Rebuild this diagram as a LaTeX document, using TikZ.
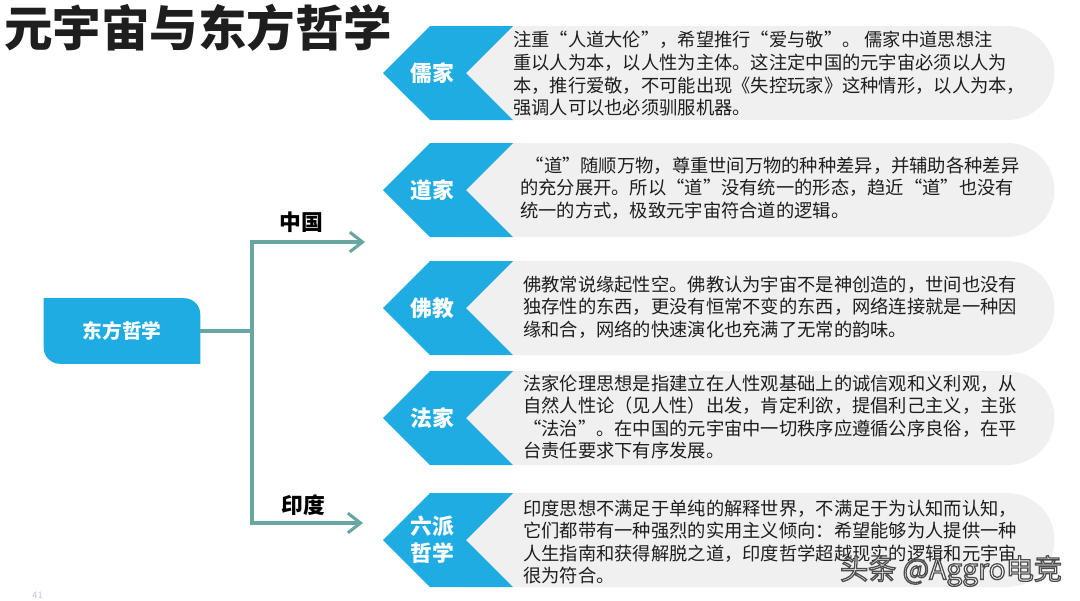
\documentclass[tikz,border=0pt]{standalone}
\usepackage{fontspec}
\usepackage{tikz}
\usetikzlibrary{shapes.symbols, shapes.misc, arrows.meta, positioning, backgrounds}
\newfontfamily\cjk{Noto Sans CJK SC}
\definecolor{chevblue}{RGB}{31,172,227}
\definecolor{boxgray}{RGB}{240,240,240}
\definecolor{linkteal}{RGB}{104,167,161}
\definecolor{inkblack}{RGB}{30,30,30}
\newcommand{\outlined}[1]{\special{pdf:literal direct 2 Tr 0.9 w 1 g 0.3 G}#1\special{pdf:literal direct 0 Tr}}
\tikzstyle{infobox} = [rounded rectangle, rounded rectangle left arc=none, fill=boxgray, minimum width=595*0.025cm, minimum height=94*0.025cm, inner sep=0pt]
\tikzstyle{chevron} = [signal, signal to=west, signal from=east, signal pointer angle=90, minimum width=130*0.025cm, minimum height=94*0.025cm, inner sep=0pt, fill=chevblue]
\tikzstyle{chevlabel} = [text=white, font=\cjk\bfseries\fontsize{15.5}{19}\selectfont, align=center, inner sep=0pt]
\tikzstyle{desc} = [anchor=west, align=left, inner sep=0pt, text=inkblack, font=\cjk\fontsize{13}{16.1}\selectfont]
\tikzstyle{branch} = [text=black, font=\cjk\bfseries\fontsize{15.5}{19}\selectfont, inner sep=0pt]
\tikzstyle{link} = [linkteal, line width=2.2pt]
\tikzstyle{arrow} = [-{Straight Barb[length=9pt, width=14pt, line width=2.2pt]}]

\begin{document}
\begin{tikzpicture}[x=0.025cm, y=-0.025cm]
\useasboundingbox (0,0) rectangle (1080,600);

% title
\node (title) [anchor=west, inner sep=0pt, text=inkblack, font=\cjk\bfseries\fontsize{34.5}{40}\selectfont] at (4,28) {元宇宙与东方哲学};

% gray boxes
\node (ruJiaBox) [infobox] at (757,73) {};
\node (daoJiaBox) [infobox] at (757,190) {};
\node (foJiaoBox) [infobox] at (757,308) {};
\node (faJiaBox) [infobox] at (757,418) {};
\node (liuPaiBox) [infobox] at (757,540) {};

% blue chevrons
\node (ruJia) [chevron] at (448,73) {};
\node (daoJia) [chevron] at (448,190) {};
\node (foJiao) [chevron] at (448,308) {};
\node (faJia) [chevron] at (448,418) {};
\node (liuPai) [chevron] at (448,540) {};
\node (ruJiaLabel) [chevlabel] at (432,73) {儒家};
\node (daoJiaLabel) [chevlabel] at (432,190) {道家};
\node (foJiaoLabel) [chevlabel] at (432,308) {佛教};
\node (faJiaLabel) [chevlabel] at (432,418) {法家};
\node (liuPaiLabel) [chevlabel] at (432,540) {六派\\哲学};

% texts
\node (ruJiaText) [desc] at (513,74) {注重“人道大伦”，希望推行“爱与敬”。 儒家中道思想注\\
重以人为本，以人性为主体。这注定中国的元宇宙必须以人为\\
本，推行爱敬，不可能出现《失控玩家》这种情形，以人为本，\\
强调人可以也必须驯服机器。};
\node (daoJiaText) [desc] at (520,188) {\hspace{0.3em}“道”随顺万物，尊重世间万物的种种差异，并辅助各种差异\\
的充分展开。所以“道”没有统一的形态，趋近“道”也没有\\
统一的方式，极致元宇宙符合道的逻辑。};
\node (foJiaoText) [desc] at (523,307) {佛教常说缘起性空。佛教认为宇宙不是神创造的，世间也没有\\
独存性的东西，更没有恒常不变的东西，网络连接就是一种因\\
缘和合，网络的快速演化也充满了无常的韵味。};
\node (faJiaText) [desc] at (523,417) {法家伦理思想是指建立在人性观基础上的诚信观和义利观，从\\
自然人性论（见人性）出发，肯定利欲，提倡利己主义，主张\\
“法治”。在中国的元宇宙中一切秩序应遵循公序良俗，在平\\
台责任要求下有序发展。};
\node (liuPaiText) [desc] at (523,542) {印度思想不满足于单纯的解释世界，不满足于为认知而认知，\\
它们都带有一种强烈的实用主义倾向：希望能够为人提供一种\\
人生指南和获得解脱之道，印度哲学超越现实的逻辑和元宇宙\\
很为符合。};

% root and branches
\node (root) [minimum width=156*0.025cm, minimum height=65*0.025cm, text=white, font=\cjk\bfseries\fontsize{14}{17}\selectfont] at (122,331) {东方哲学};
\begin{scope}[on background layer]
\fill[chevblue] (root.north west) -- ([xshift=-16*0.025cm]root.north east) arc[start angle=90, end angle=0, radius=16*0.025cm] -- (root.south east) -- ([xshift=16*0.025cm]root.south west) arc[start angle=270, end angle=180, radius=16*0.025cm] -- cycle;
\end{scope}
\coordinate (fork) at (252,331);
\coordinate (chinaTip) at (365,242);
\coordinate (indiaTip) at (363,523);
\node (china) [branch] at (301,222) {中国};
\node (india) [branch] at (303,505) {印度};
\draw [link] (root.east) -- (fork);
\draw [link, arrow] (fork) |- (chinaTip);
\draw [link, arrow] (fork) |- (indiaTip);

% page number and watermark
\node (pageNo) [anchor=north west, inner sep=0pt, text=blue!20!gray!40, font=\sffamily\fontsize{7}{8}\selectfont] at (32,592) {41};
\node (mark) [font=\cjk\fontsize{20}{24}\selectfont, inner sep=0pt] at (951,571) {\outlined{头条 @Aggro电竞}};
\end{tikzpicture}
\end{document}
